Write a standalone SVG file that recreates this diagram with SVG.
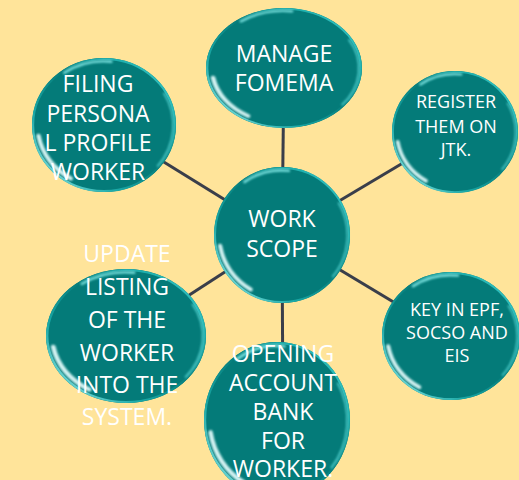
<svg xmlns="http://www.w3.org/2000/svg" xmlns:xlink="http://www.w3.org/1999/xlink" width="519" height="480" viewBox="0 0 519 480">
<style>
.lbl{font-family:"Open Sans","Liberation Sans",sans-serif;fill:#ffffff;text-anchor:middle}
.big{font-size:23px}
.small{font-size:18px}
.conn{stroke:#3a3e4a;stroke-width:3;fill:none}
</style>
<defs>
<linearGradient id="rim" x1="0" y1="1" x2="1" y2="0">
<stop offset="0" stop-color="#9ff2f0"/>
<stop offset="0.3" stop-color="#1aa8a6"/>
<stop offset="0.55" stop-color="#067d7b"/>
<stop offset="0.8" stop-color="#1fb0ae"/>
<stop offset="1" stop-color="#4fd8d6"/>
</linearGradient>
<filter id="blur" x="-20%" y="-20%" width="140%" height="140%"><feGaussianBlur stdDeviation="1.6"/></filter>
<g id="bubble">
<circle r="100" fill="#047b79"/>
<circle r="98.5" fill="none" stroke="url(#rim)" stroke-width="3"/>
<path d="M -46 80 A 92 92 0 0 1 -91 16" fill="none" stroke="#eaffff" stroke-width="6" stroke-linecap="round" filter="url(#blur)" opacity="0.9"/>
<path d="M -55 -78 A 95 95 0 0 1 10 -94.5" fill="none" stroke="#8ff4f2" stroke-width="4" stroke-linecap="round" filter="url(#blur)" opacity="0.8"/>
<path d="M 83 -48 A 96 96 0 0 1 74 62" fill="none" stroke="#5fe0de" stroke-width="3" filter="url(#blur)" opacity="0.7"/>
</g>
</defs>
<rect width="519" height="480" fill="#ffe49a"/>
<g id="connectors">
<line class="conn" x1="282" y1="235" x2="284" y2="68"/>
<line class="conn" x1="282" y1="235" x2="104" y2="125"/>
<line class="conn" x1="282" y1="235" x2="455" y2="132"/>
<line class="conn" x1="282" y1="235" x2="450" y2="336"/>
<line class="conn" x1="282" y1="235" x2="283" y2="420"/>
<line class="conn" x1="282" y1="235" x2="126" y2="336"/>
</g>
<g id="manage">
<use xlink:href="#bubble" transform="translate(284,68) scale(0.78,0.6)"/>
<text class="lbl big" x="284" y="62">MANAGE</text>
<text class="lbl big" x="284" y="91">FOMEMA</text>
</g>
<g id="filing">
<use xlink:href="#bubble" transform="translate(104,125) scale(0.72,0.67)"/>
<text class="lbl big" x="98" y="92">FILING</text>
<text class="lbl big" x="98" y="122">PERSONA</text>
<text class="lbl big" x="98" y="151">L PROFILE</text>
<text class="lbl big" x="98" y="180">WORKER</text>
</g>
<g id="register">
<use xlink:href="#bubble" transform="translate(455,132) scale(0.63,0.61)"/>
<text class="lbl small" x="456" y="108">REGISTER</text>
<text class="lbl small" x="456" y="133">THEM ON</text>
<text class="lbl small" x="456" y="156">JTK.</text>
</g>
<g id="keyin">
<use xlink:href="#bubble" transform="translate(451,336) scale(0.69,0.64)"/>
<text class="lbl small" x="457" y="316">KEY IN EPF,</text>
<text class="lbl small" x="457" y="339">SOCSO AND</text>
<text class="lbl small" x="457" y="362">EIS</text>
</g>
<g id="opening">
<use xlink:href="#bubble" transform="translate(277,420) scale(0.73,0.78)"/>
<text class="lbl big" x="283" y="362">OPENING</text>
<text class="lbl big" x="283" y="391">ACCOUNT</text>
<text class="lbl big" x="283" y="420">BANK</text>
<text class="lbl big" x="283" y="449">FOR</text>
<text class="lbl big" x="283" y="477">WORKER.</text>
</g>
<g id="update">
<use xlink:href="#bubble" transform="translate(126,336) scale(0.8,0.67)"/>
<text class="lbl big" x="127" y="262">UPDATE</text>
<text class="lbl big" x="127" y="295">LISTING</text>
<text class="lbl big" x="127" y="328">OF THE</text>
<text class="lbl big" x="127" y="361">WORKER</text>
<text class="lbl big" x="127" y="393">INTO THE</text>
<text class="lbl big" x="127" y="425">SYSTEM.</text>
</g>
<g id="workscope">
<use xlink:href="#bubble" transform="translate(282,235) scale(0.68,0.68)"/>
<text class="lbl big" x="282" y="227">WORK</text>
<text class="lbl big" x="282" y="257">SCOPE</text>
</g>
</svg>
